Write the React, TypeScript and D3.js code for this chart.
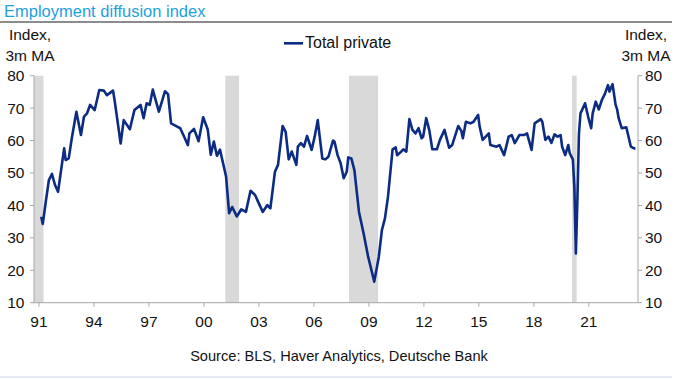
import React from 'react';
import * as d3 from 'd3';

const months = [
  "1991-02","1991-03","1991-05","1991-07","1991-09","1991-11","1992-01","1992-05","1992-06","1992-08","1992-10",
  "1993-01","1993-04","1993-06","1993-08","1993-10","1994-01","1994-04","1994-07","1994-09","1995-01","1995-02",
  "1995-06","1995-08","1995-12","1996-03","1996-07","1996-09","1996-11","1997-01","1997-03","1997-07","1997-11",
  "1998-01","1998-03","1998-07","1998-09","1998-12","1999-02","1999-03","1999-06","1999-09","1999-12","2000-03",
  "2000-05","2000-07","2000-09","2000-11","2001-03","2001-05","2001-07","2001-10","2002-01","2002-04","2002-07",
  "2002-10","2002-12","2003-03","2003-06","2003-08","2003-11","2004-01","2004-04","2004-06","2004-08","2004-10",
  "2005-01","2005-02","2005-04","2005-06","2005-08","2005-11","2006-01","2006-03","2006-06","2006-08","2006-10",
  "2007-01","2007-02","2007-04","2007-06","2007-08","2007-10","2007-11","2008-01","2008-03","2008-06","2008-09",
  "2008-12","2009-04","2009-07","2009-09","2009-11","2010-01","2010-04","2010-06","2010-07","2010-09","2010-11",
  "2011-01","2011-03","2011-05","2011-07","2011-09","2011-11","2011-12","2012-02","2012-04","2012-06","2012-09",
  "2012-11","2013-02","2013-05","2013-07","2013-11","2014-01","2014-02","2014-04","2014-07","2014-09","2014-12",
  "2015-01","2015-03","2015-07","2015-08","2015-12","2016-02","2016-05","2016-08","2016-10","2016-12","2017-03",
  "2017-06","2017-08","2017-11","2018-01","2018-05","2018-06","2018-08","2018-10","2018-12","2019-02","2019-04",
  "2019-06","2019-07","2019-09","2019-11","2019-12","2020-02","2020-03","2020-04","2020-05","2020-06","2020-07",
  "2020-08","2020-10","2020-12","2021-02","2021-03","2021-05","2021-07","2021-09","2021-11","2022-01","2022-02",
  "2022-04","2022-06","2022-07","2022-08","2022-10","2023-01","2023-04","2023-06","2023-07"
];

const totalPrivate = [
  36.5,34.3,41.2,47.8,49.7,46.3,44.2,57.6,54.0,54.5,60.7,
  68.9,61.7,67.4,68.4,71.0,69.4,75.6,75.4,74.0,75.4,72.5,
  59.1,66.3,63.5,69.4,71.0,66.9,71.5,71.0,75.7,68.9,75.2,
  74.3,65.3,64.3,63.8,60.7,58.6,62.2,63.6,59.8,67.2,63.4,
  55.6,59.7,55.3,57.2,48.9,37.6,39.5,36.6,38.8,38.0,44.5,
  43.2,41.1,38.0,40.1,39.1,50.4,52.5,64.5,62.7,54.2,56.6,
  52.5,58.1,59.2,58.1,61.4,57.1,61.2,66.3,54.5,54.2,55.0,
  60.0,59.6,55.5,53.0,48.4,50.4,54.8,54.5,50.9,38.0,31.4,
  24.2,16.5,24.2,32.4,36.0,42.7,57.3,57.9,55.5,56.3,57.3,
  56.6,66.6,63.3,62.2,63.8,60.7,61.2,66.9,63.3,57.3,57.3,
  60.2,63.3,57.8,58.6,64.5,63.0,60.7,65.8,65.3,65.8,67.9,
  64.3,60.2,62.2,58.6,58.1,58.6,55.5,61.2,61.7,59.2,61.7,
  61.7,62.2,57.1,65.3,66.6,65.8,60.2,61.2,59.3,61.9,61.2,
  61.7,58.1,55.5,58.6,56.1,54.2,45.8,25.2,42.0,62.0,68.4,
  69.4,71.5,67.4,63.8,68.4,72.0,69.6,72.5,74.4,77.1,75.1,
  77.4,71.0,69.6,66.9,63.8,64.1,58.1,57.6,57.6
];

const recessionStarts = ["1990-07", "2001-03", "2007-12", "2020-02"];
const recessionEnds = ["1991-03", "2001-11", "2009-06", "2020-04"];

const xTickYears = [1991, 1994, 1997, 2000, 2003, 2006, 2009, 2012, 2015, 2018, 2021];
const xTickLabels = ["91", "94", "97", "00", "03", "06", "09", "12", "15", "18", "21"];
const yTicks = [10, 20, 30, 40, 50, 60, 70, 80];

const seriesName = "Total private";
const title = "Employment diffusion index";
const axisTitle = ["Index,", "3m MA"];
const source = "Source: BLS, Haver Analytics, Deutsche Bank";

const ym = (s: string) => {
  const [y, m] = s.split("-").map(Number);
  return { y, m };
};
const midMonth = (s: string) => { const { y, m } = ym(s); return y + (m - 1) / 12 + 0.5 / 12; };
const startMonth = (s: string) => { const { y, m } = ym(s); return y + (m - 1) / 12; };
const endMonth = (s: string) => { const { y, m } = ym(s); return y + m / 12; };

export default function App() {
  const W = 680, H = 379;
  const left = 34, right = 638, top = 75.7, bottom = 302.7;
  const x = d3.scaleLinear().domain([1990.73, 2023.68]).range([left, right]);
  const y = d3.scaleLinear().domain([10, 80]).range([bottom, top]);
  const data = months.map((m, i) => ({ t: midMonth(m), v: totalPrivate[i] }));
  const line = d3.line<{ t: number; v: number }>().x(d => x(d.t)).y(d => y(d.v));
  const font = "Arial, 'Liberation Sans', Helvetica, sans-serif";
  const axisColor = "#a6a6a6";
  const navy = "#0c2c84";

  return (
    <svg width={W} height={H} style={{ position: 'absolute', left: 0, top: 0, background: '#fff' }} fontFamily={font}>
      <text x={4} y={16.5} fontSize={16.5} fill="#1f9fdc">{title}</text>
      <line x1={0} x2={672} y1={22} y2={22} stroke="#8c8c8c" strokeWidth={2} />

      {recessionStarts.map((s, i) => {
        const x0 = Math.max(left, x(startMonth(s)));
        const x1 = x(endMonth(recessionEnds[i]));
        return <rect key={s} x={x0} y={top} width={x1 - x0} height={bottom - top} fill="#d9d9d9" />;
      })}

      {/* axes */}
      <line x1={left} x2={left} y1={top} y2={bottom} stroke={axisColor} strokeWidth={1} />
      <line x1={right} x2={right} y1={top} y2={bottom} stroke={axisColor} strokeWidth={1} />
      <line x1={left} x2={right} y1={bottom} y2={bottom} stroke={axisColor} strokeWidth={1} />
      {yTicks.map(t => (
        <g key={t}>
          <line x1={left - 4} x2={left} y1={y(t)} y2={y(t)} stroke={axisColor} />
          <line x1={right} x2={right + 4} y1={y(t)} y2={y(t)} stroke={axisColor} />
          <text x={24.5} y={y(t)} dy="0.35em" textAnchor="end" fontSize={15.5} fill="#111">{t}</text>
          <text x={645} y={y(t)} dy="0.35em" textAnchor="start" fontSize={15.5} fill="#111">{t}</text>
        </g>
      ))}
      {xTickYears.map((yr, i) => (
        <g key={yr}>
          <line x1={x(yr)} x2={x(yr)} y1={bottom} y2={bottom + 4} stroke={axisColor} />
          <text x={x(yr)} y={327} textAnchor="middle" fontSize={15.5} fill="#111">{xTickLabels[i]}</text>
        </g>
      ))}

      <path d={line(data) || ''} fill="none" stroke={navy} strokeWidth={2.6} strokeLinejoin="round" />

      {/* axis titles */}
      <text x={30} y={40} textAnchor="middle" fontSize={15.5} fill="#111">{axisTitle[0]}</text>
      <text x={30} y={61} textAnchor="middle" fontSize={15.5} fill="#111">{axisTitle[1]}</text>
      <text x={646} y={40} textAnchor="middle" fontSize={15.5} fill="#111">{axisTitle[0]}</text>
      <text x={646} y={61} textAnchor="middle" fontSize={15.5} fill="#111">{axisTitle[1]}</text>

      {/* legend */}
      <line x1={284} x2={303} y1={43.3} y2={43.3} stroke={navy} strokeWidth={2.6} />
      <text x={305} y={48} fontSize={16} fill="#111">{seriesName}</text>

      <text x={339} y={361} textAnchor="middle" fontSize={14.6} fill="#111">{source}</text>
      <line x1={0} x2={672} y1={377} y2={377} stroke="#dfe6ee" strokeWidth={1.5} />
    </svg>
  );
}
